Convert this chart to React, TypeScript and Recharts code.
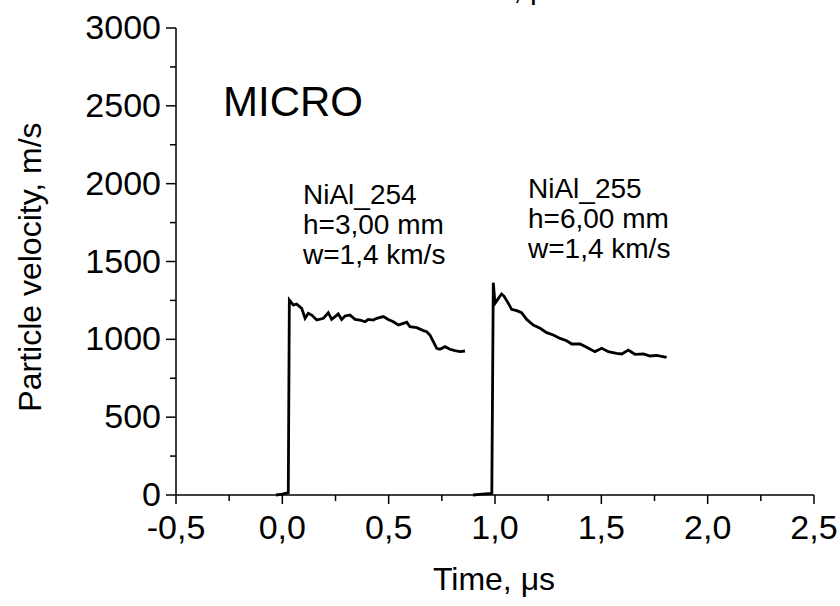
import React from 'react';
import { LineChart, Line, XAxis, YAxis } from 'recharts';

// shot NiAl_254 (h=3,00 mm)
const shot254Time = [-0.03, 0.0, 0.028, 0.033, 0.052, 0.067, 0.091, 0.107, 0.122, 0.138, 0.162, 0.193, 0.216, 0.232, 0.248, 0.263, 0.279, 0.295, 0.318, 0.342, 0.365, 0.389, 0.404, 0.428, 0.444, 0.475, 0.498, 0.522, 0.545, 0.569, 0.585, 0.6, 0.632, 0.663, 0.679, 0.694, 0.71, 0.726, 0.741, 0.765, 0.788, 0.812, 0.835, 0.859];
const shot254Vel = [0, 5, 15, 1253, 1220, 1227, 1199, 1135, 1167, 1156, 1124, 1135, 1171, 1128, 1146, 1163, 1128, 1150, 1156, 1128, 1124, 1113, 1128, 1124, 1135, 1146, 1128, 1113, 1092, 1103, 1110, 1081, 1075, 1056, 1049, 1028, 985, 942, 936, 953, 936, 927, 921, 925];

// shot NiAl_255 (h=6,00 mm)
const shot255Time = [0.897, 0.94, 0.985, 0.992, 1.0, 1.016, 1.031, 1.042, 1.063, 1.078, 1.102, 1.125, 1.149, 1.18, 1.212, 1.243, 1.274, 1.306, 1.337, 1.361, 1.4, 1.431, 1.47, 1.502, 1.533, 1.572, 1.596, 1.627, 1.658, 1.698, 1.729, 1.76, 1.807];
const shot255Vel = [0, 5, 10, 1364, 1231, 1263, 1291, 1278, 1231, 1193, 1184, 1171, 1128, 1092, 1071, 1043, 1028, 1006, 991, 970, 970, 949, 921, 942, 921, 910, 906, 931, 904, 906, 893, 897, 884];

const xTicks = [-0.5, -0.25, 0, 0.25, 0.5, 0.75, 1, 1.25, 1.5, 1.75, 2, 2.25, 2.5];
const yTicks = [0, 250, 500, 750, 1000, 1250, 1500, 1750, 2000, 2250, 2500, 2750, 3000];

const series254 = shot254Time.map((t, i) => ({ t, v: shot254Vel[i] }));
const series255 = shot255Time.map((t, i) => ({ t, v: shot255Vel[i] }));

const FONT = '"Liberation Sans", Arial, sans-serif';

const isMajorX = (v: number) => Math.abs(v * 2 - Math.round(v * 2)) < 1e-6;
const isMajorY = (v: number) => v % 500 === 0;
const fmtX = (v: number) => v.toFixed(1).replace('.', ',');

const BottomTick = (props: any) => {
  const { x, y, payload } = props;
  const major = isMajorX(payload.value);
  return (
    <g>
      <line x1={x} x2={x} y1={y} y2={y + (major ? 9 : 6)} stroke="#000" strokeWidth={1.5} />
      {major && (
        <text x={x} y={y + 44} textAnchor="middle" fontSize={34} fontFamily={FONT} fill="#000">
          {fmtX(payload.value)}
        </text>
      )}
    </g>
  );
};

const TopTick = (props: any) => {
  const { x, y, payload } = props;
  const major = isMajorX(payload.value);
  return <line x1={x} x2={x} y1={y} y2={y - (major ? 9 : 6)} stroke="#000" strokeWidth={1.5} />;
};

const LeftTick = (props: any) => {
  const { x, y, payload } = props;
  const major = isMajorY(payload.value);
  return (
    <g>
      <line x1={x} x2={x - (major ? 10 : 6)} y1={y} y2={y} stroke="#000" strokeWidth={1.5} />
      {major && (
        <text x={x - 15} y={y + 11} textAnchor="end" fontSize={34} fontFamily={FONT} fill="#000">
          {payload.value}
        </text>
      )}
    </g>
  );
};

export default function App() {
  return (
    <div style={{ position: 'absolute', left: 0, top: 0, width: 840, height: 606, background: '#fff' }}>
      <LineChart width={840} height={606} margin={{ top: 28, right: 26, left: 0, bottom: 51 }}>
        <XAxis
          type="number"
          dataKey="t"
          domain={[-0.5, 2.5]}
          ticks={xTicks}
          interval={0}
          allowDataOverflow
          height={60}
          tickSize={0}
          tickMargin={0}
          tickLine={false}
          axisLine={{ stroke: '#000', strokeWidth: 1.5 }}
          tick={BottomTick}
        />
        <XAxis
          xAxisId="top"
          orientation="top"
          type="number"
          dataKey="t"
          domain={[-0.5, 2.5]}
          ticks={xTicks}
          interval={0}
          height={0}
          tickSize={0}
          tickMargin={0}
          tickLine={false}
          axisLine={{ stroke: '#000', strokeWidth: 1.5 }}
          tick={TopTick}
        />
        <YAxis
          type="number"
          domain={[0, 3000]}
          ticks={yTicks}
          interval={0}
          width={176}
          tickSize={0}
          tickMargin={0}
          tickLine={false}
          axisLine={{ stroke: '#000', strokeWidth: 1.5 }}
          tick={LeftTick}
        />
        <YAxis
          yAxisId="right"
          orientation="right"
          type="number"
          domain={[0, 3000]}
          width={0}
          tick={false}
          tickLine={false}
          axisLine={{ stroke: '#000', strokeWidth: 2 }}
        />
        <Line data={series254} dataKey="v" type="linear" stroke="#000" strokeWidth={2.8} dot={false} isAnimationActive={false} />
        <Line data={series255} dataKey="v" type="linear" stroke="#000" strokeWidth={2.8} dot={false} isAnimationActive={false} />

        <text x={505} y={-1} textAnchor="middle" fontSize={30} fontFamily={FONT} fill="#000">Time, μs</text>
        <text x={223} y={116} fontSize={42} fontFamily={FONT} fill="#000">MICRO</text>
        <text x={303} y={204} fontSize={28} fontFamily={FONT} fill="#000">
          <tspan x={303} dy={0}>NiAl_254</tspan>
          <tspan x={303} dy={30}>h=3,00 mm</tspan>
          <tspan x={303} dy={30}>w=1,4 km/s</tspan>
        </text>
        <text x={528} y={198} fontSize={28} fontFamily={FONT} fill="#000">
          <tspan x={528} dy={0}>NiAl_255</tspan>
          <tspan x={528} dy={30}>h=6,00 mm</tspan>
          <tspan x={528} dy={30}>w=1,4 km/s</tspan>
        </text>
        <text x={494} y={590} textAnchor="middle" fontSize={32} fontFamily={FONT} fill="#000">Time, μs</text>
        <text
          x={30}
          y={267}
          transform="rotate(-90 30 267)"
          textAnchor="middle"
          dominantBaseline="central"
          fontSize={32}
          fontFamily={FONT}
          fill="#000"
        >
          Particle velocity, m/s
        </text>
      </LineChart>
    </div>
  );
}
